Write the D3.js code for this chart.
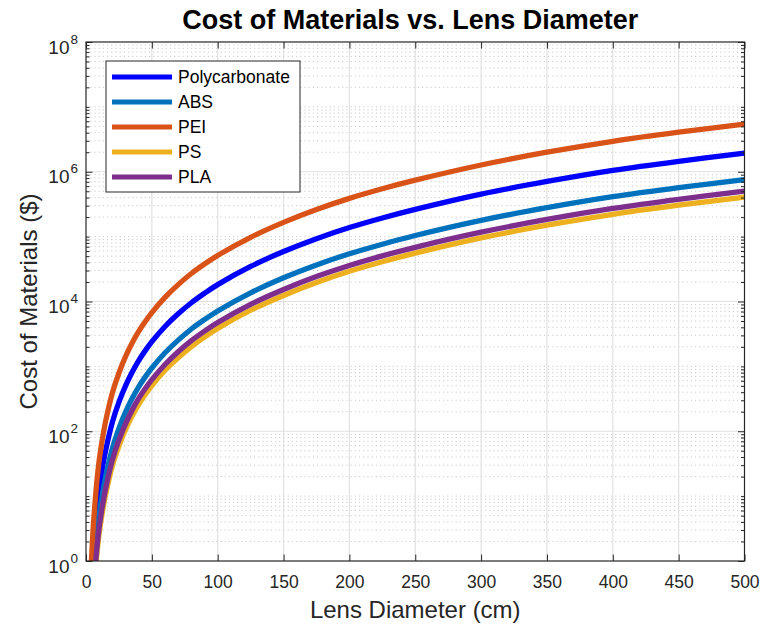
<!DOCTYPE html>
<html><head><meta charset="utf-8">
<script src="https://cdn.jsdelivr.net/npm/d3@7"></script>
<style>
body{margin:0;background:#fff;}
text{font-family:"Liberation Sans",Arial,sans-serif;}
</style></head>
<body><svg id="c" width="761" height="630"></svg>
<script>
// ---- data ----
const diameters = [3,4,5,6,8,10,12.5,15,20,25,30,35,40,45,50,60,70,80,90,100,125,150,175,200,225,250,300,350,400,450,500];
const polycarbonate = [0.10,0.32,0.79,1.66,5.25,12.6,27.2,51.3,138,281,501,811,1230,1750,2400,4120,6460,9570,13400,18200,34700,58900,92900,138000,194000,263000,452000,708000,1050000,1450000,1930000];
const abs = [0.039,0.126,0.31,0.65,2.07,4.96,10.7,20.2,54.3,111,197,319,484,689,944,1620,2540,3770,5280,7160,13600,23200,36600,54300,76400,104000,178000,279000,412000,569000,759000];
const pei = [0.28,0.91,2.24,4.68,14.8,35.5,76.7,145,389,791,1410,2290,3470,4930,6760,11600,18200,27000,37800,51300,97700,166000,262000,389000,547000,741000,1270000,2000000,2950000,4070000,5430000];
const ps = [0.021,0.068,0.17,0.35,1.11,2.66,5.75,10.8,29.2,59.3,106,171,260,370,507,871,1360,2020,2840,3850,7330,12400,19600,29200,41000,55600,95500,150000,221000,305000,407000];
const pla = [0.026,0.084,0.21,0.43,1.37,3.27,7.08,13.3,35.9,72.9,130,211,320,455,624,1070,1680,2490,3490,4730,9020,15300,24200,35900,50500,68400,117000,184000,272000,376000,501000];
const seriesNames = ["Polycarbonate","ABS","PEI","PS","PLA"];
const seriesValues = [polycarbonate, abs, pei, ps, pla];
const seriesColors = ["#0000FF","#0072BD","#D95319","#EDB120","#7E2F8E"];
const xTicks = [0,50,100,150,200,250,300,350,400,450,500];
const yMajorExp = [0,2,4,6,8];

// ---- layout ----
const svg = d3.select("#c");
const L = 86, R = 744.5, T = 42, B = 561;
const x = d3.scaleLinear().domain([0,500]).range([L,R]);
const y = d3.scaleLog().domain([1,1e8]).range([B,T]);
const axisCol = "#262626";

// minor y values
const allY = y.ticks(80).filter(v => v >= 1 && v <= 1e8);
const majorVals = yMajorExp.map(e => Math.pow(10,e));
const isMajor = v => majorVals.some(m => Math.abs(Math.log10(v) - Math.log10(m)) < 1e-6);
const minorVals = allY.filter(v => !isMajor(v));

const g = svg.append("g");
// minor grid (dotted)
g.append("g").selectAll("line").data(minorVals).join("line")
  .attr("x1",L).attr("x2",R).attr("y1",d=>y(d)).attr("y2",d=>y(d))
  .attr("stroke","#cccccc").attr("stroke-width",1).attr("stroke-dasharray","1.2,3");
// major grid
g.append("g").selectAll("line").data(majorVals.slice(1,-1)).join("line")
  .attr("x1",L).attr("x2",R).attr("y1",d=>y(d)).attr("y2",d=>y(d))
  .attr("stroke","#e1e1e1").attr("stroke-width",1.2);
g.append("g").selectAll("line").data(xTicks.slice(1,-1)).join("line")
  .attr("x1",d=>x(d)).attr("x2",d=>x(d)).attr("y1",T).attr("y2",B)
  .attr("stroke","#e1e1e1").attr("stroke-width",1.2);

// series
svg.append("defs").append("clipPath").attr("id","clip")
  .append("rect").attr("x",L).attr("y",T).attr("width",R-L).attr("height",B-T);
const line = d3.line().x((d,i)=>x(diameters[i])).y(d=>y(d)).curve(d3.curveCatmullRom.alpha(0.5));
const lines = svg.append("g").attr("clip-path","url(#clip)");
seriesValues.forEach((vals,k)=>{
  lines.append("path").attr("d",line(vals)).attr("fill","none")
    .attr("stroke",seriesColors[k]).attr("stroke-width",5.3).attr("stroke-linejoin","round");
});

// axes (ticks inward)
const xb = d3.axisBottom(x).tickValues(xTicks).tickSize(-6.5).tickFormat(d3.format("d")).tickPadding(14.5);
const xt = d3.axisTop(x).tickValues(xTicks).tickSize(-6.5).tickFormat("");
const yMaj = d3.axisLeft(y).tickValues(majorVals).tickSize(-6.5).tickFormat("");
const yMin = d3.axisLeft(y).tickValues(minorVals).tickSize(-3.5).tickFormat("");
const yMajR = d3.axisRight(y).tickValues(majorVals).tickSize(-6.5).tickFormat("");
const yMinR = d3.axisRight(y).tickValues(minorVals).tickSize(-3.5).tickFormat("");
function style(sel){ sel.selectAll("path,line").attr("stroke",axisCol).attr("stroke-width",1); sel.select(".domain").remove(); }
const gx = svg.append("g").attr("transform",`translate(0,${B})`).call(xb); style(gx);
gx.selectAll("text").attr("fill",axisCol).attr("font-size",17.5).attr("font-family","Liberation Sans, Arial, sans-serif");
style(svg.append("g").attr("transform",`translate(0,${T})`).call(xt));
style(svg.append("g").attr("transform",`translate(${L},0)`).call(yMaj));
style(svg.append("g").attr("transform",`translate(${L},0)`).call(yMin));
style(svg.append("g").attr("transform",`translate(${R},0)`).call(yMajR));
style(svg.append("g").attr("transform",`translate(${R},0)`).call(yMinR));
svg.append("rect").attr("x",L).attr("y",T).attr("width",R-L).attr("height",B-T)
  .attr("fill","none").attr("stroke",axisCol).attr("stroke-width",1.2);

// y tick labels with superscripts
const yl = svg.append("g").selectAll("text").data(yMajorExp).join("text")
  .attr("x",L-8).attr("y",d=>y(Math.pow(10,d))+11.5).attr("text-anchor","end")
  .attr("fill",axisCol).attr("font-size",19);
yl.append("tspan").text("10");
yl.append("tspan").attr("font-size",13.5).attr("dy",-10).attr("dx",1).text(d=>d);

// labels
svg.append("text").attr("x",(L+R)/2 - 5).attr("y",29).attr("text-anchor","middle")
  .attr("font-size",27).attr("font-weight","bold").attr("fill","#000").text("Cost of Materials vs. Lens Diameter");
svg.append("text").attr("x",(L+R)/2).attr("y",618).attr("text-anchor","middle")
  .attr("font-size",24).attr("fill",axisCol).text("Lens Diameter (cm)");
svg.append("text").attr("transform",`translate(37,${(T+B)/2}) rotate(-90)`).attr("text-anchor","middle")
  .attr("font-size",24).attr("fill",axisCol).text("Cost of Materials ($)");

// legend
const lg = svg.append("g");
lg.append("rect").attr("x",106).attr("y",61).attr("width",194).attr("height",131)
  .attr("fill","#fff").attr("stroke",axisCol).attr("stroke-width",1);
seriesNames.forEach((n,i)=>{
  const yy = 77 + i*25;
  lg.append("line").attr("x1",112).attr("x2",172).attr("y1",yy).attr("y2",yy)
    .attr("stroke",seriesColors[i]).attr("stroke-width",5);
  lg.append("text").attr("x",178).attr("y",yy+6).attr("font-size",17.5).attr("fill","#000").text(n);
});
</script></body></html>
